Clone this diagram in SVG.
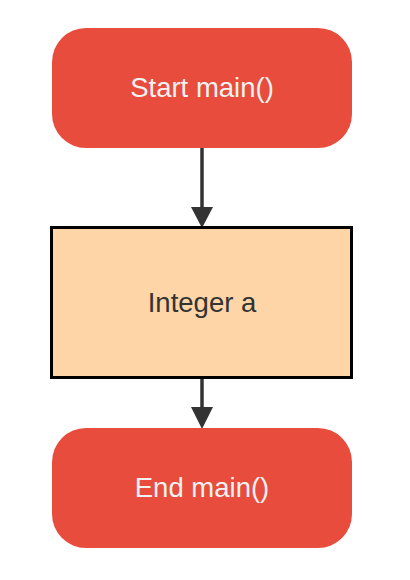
<svg xmlns="http://www.w3.org/2000/svg" width="410" height="580" viewBox="0 0 410 580">
<style>
.term{fill:#e74c3c}
.proc{fill:#fed5a7;stroke:#000;stroke-width:3}
.lt{font-family:"Liberation Sans",Arial,sans-serif;font-size:27.5px;text-anchor:middle;fill:#f2f2f2}
.dk{fill:#333}
.edge{stroke:#333;stroke-width:3.5;fill:none}
.head{fill:#333}
</style>
<rect width="410" height="580" fill="#fff"/>
<g id="connectors">
<line class="edge" x1="202" y1="148" x2="202" y2="210"/>
<polygon class="head" points="191,207 213,207 202,228"/>
<line class="edge" x1="202" y1="379" x2="202" y2="410"/>
<polygon class="head" points="191,407 213,407 202,429"/>
</g>
<g id="start">
<rect class="term" x="52" y="28" width="300" height="120" rx="34" ry="34"/>
<text class="lt" x="202" y="97">Start main()</text>
</g>
<g id="integer_a">
<rect class="proc" x="51.5" y="227.5" width="300" height="150"/>
<text class="lt dk" x="202" y="312">Integer a</text>
</g>
<g id="end">
<rect class="term" x="52" y="428" width="300" height="120" rx="34" ry="34"/>
<text class="lt" x="202" y="497">End main()</text>
</g>
</svg>
